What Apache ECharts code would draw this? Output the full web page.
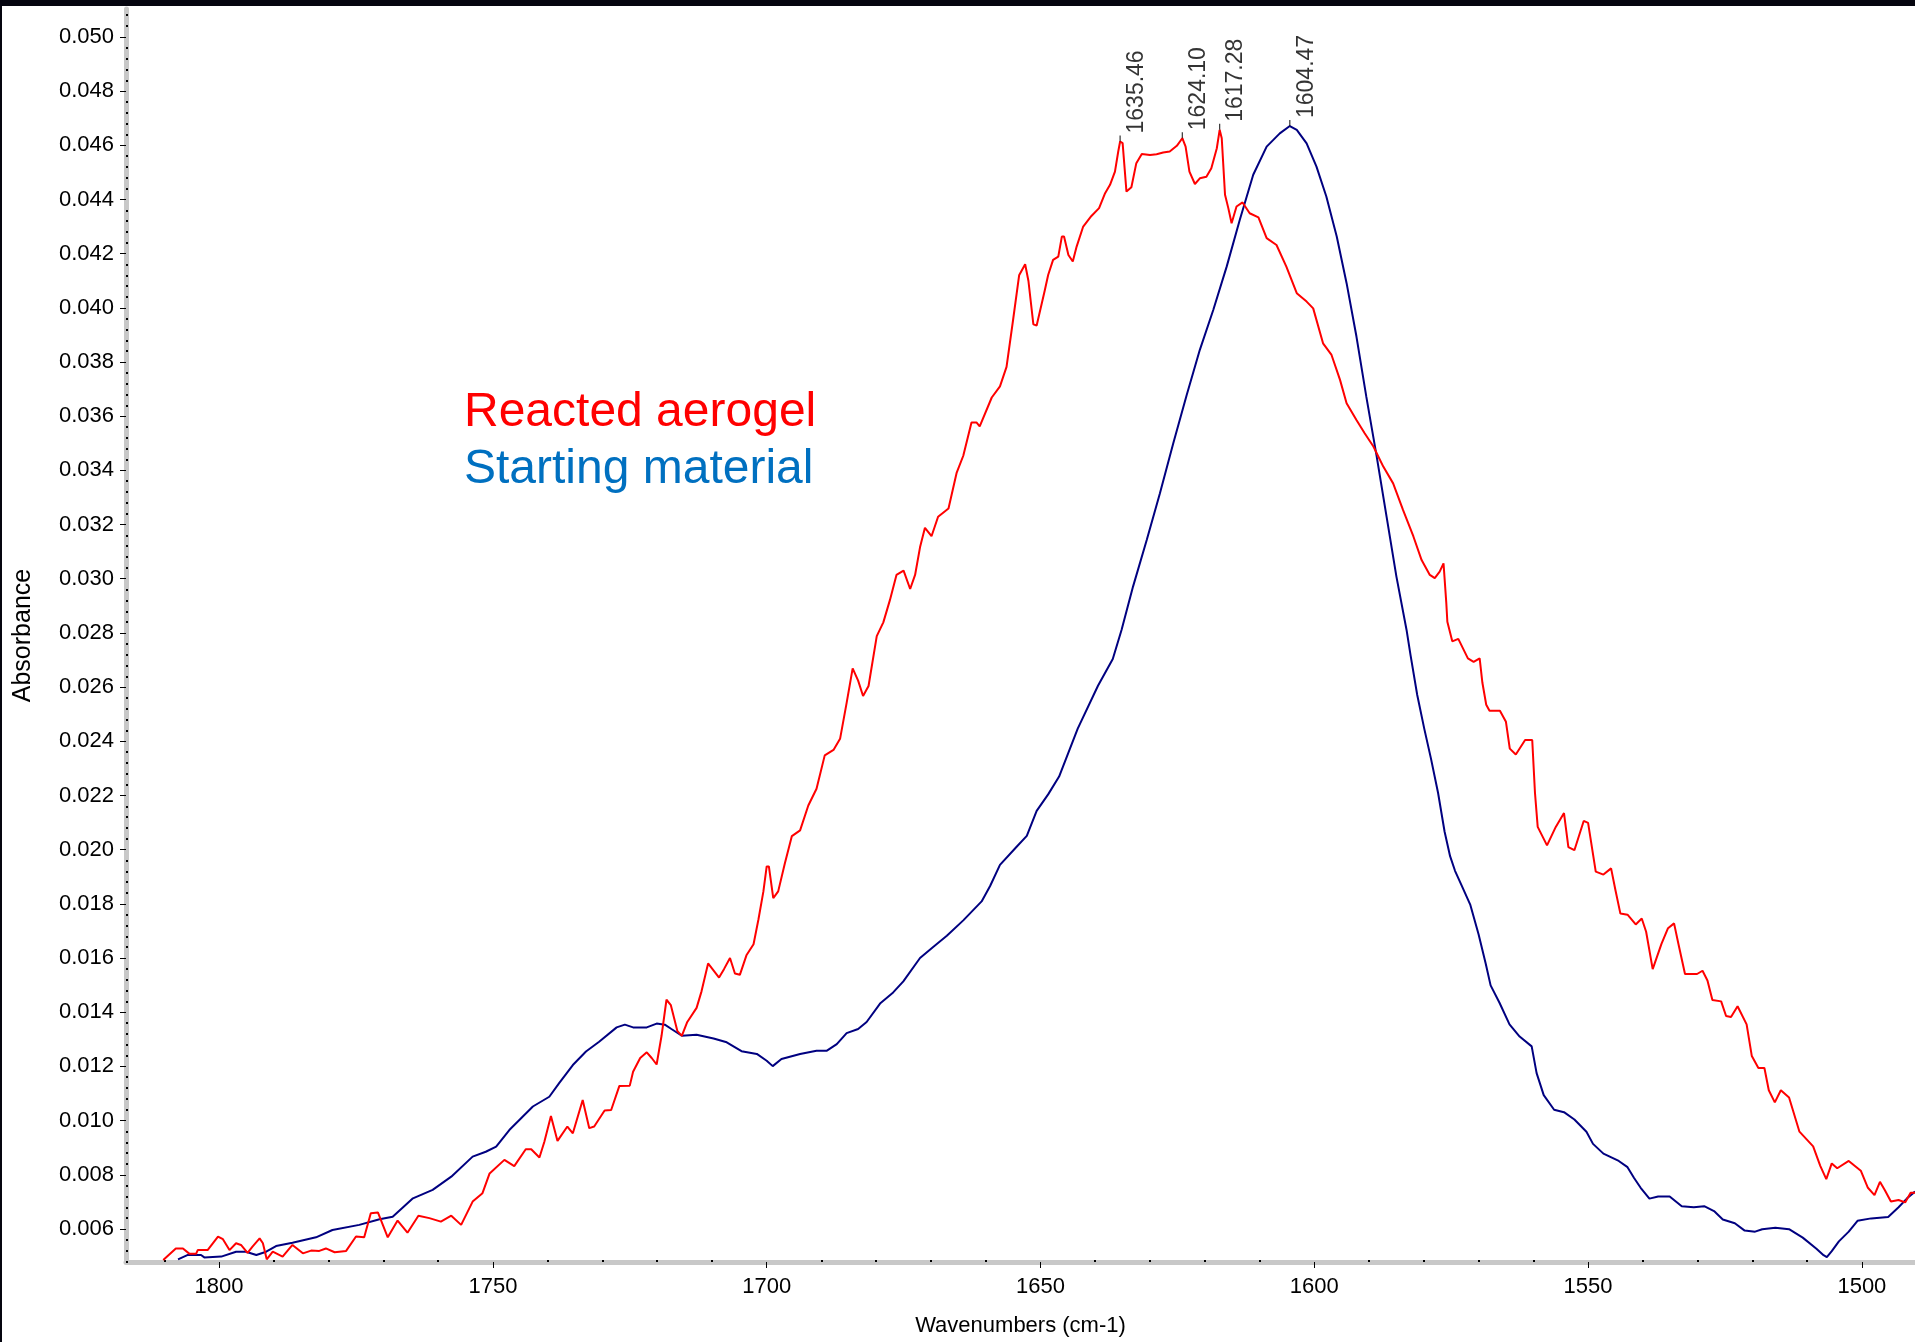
<!DOCTYPE html>
<html>
<head>
<meta charset="utf-8">
<script src="https://cdn.jsdelivr.net/npm/echarts@6.0.0/dist/echarts.min.js"></script>
<style>
html,body{margin:0;padding:0;background:#fff;}
#chart{width:1915px;height:1342px;}
</style>
</head>
<body>
<div id="chart"></div>
<script>
// ---- axis ticks ----
const xTicks = [1500, 1550, 1600, 1650, 1700, 1750, 1800];
const yTicks = [0.006, 0.008, 0.010, 0.012, 0.014, 0.016, 0.018, 0.020, 0.022, 0.024, 0.026, 0.028,
                0.030, 0.032, 0.034, 0.036, 0.038, 0.040, 0.042, 0.044, 0.046, 0.048, 0.050];
const xRange = [1490.3, 1817.0];
const yRange = [0.00478, 0.05103];

// ---- series names ----
const seriesNames = ['Reacted aerogel', 'Starting material'];

// ---- Reacted aerogel: [wavenumber, absorbance] ----
const reactedAerogel = [
[1810.2,0.00485],[1807.9,0.00528],[1806.6,0.00528],[1805.4,0.00508],[1804.2,0.00508],[1803.9,0.00522],[1802.1,0.00522],[1800.2,0.00572],[1799.3,0.00562],[1798.1,0.00522],
[1796.9,0.00547],[1796.0,0.00541],[1794.8,0.00512],[1793.9,0.00535],[1792.6,0.00565],[1792.0,0.00547],[1791.3,0.00488],[1790.2,0.00516],[1788.4,0.00498],[1786.6,0.00541],
[1784.7,0.00510],[1783.2,0.00520],[1781.7,0.00519],[1780.5,0.00528],[1778.9,0.00514],[1776.8,0.00519],[1775.0,0.00572],[1773.5,0.00569],[1772.3,0.00658],[1771.0,0.00661],
[1769.2,0.00569],[1767.4,0.00631],[1765.6,0.00586],[1763.6,0.00649],[1761.6,0.00640],[1759.5,0.00627],[1757.6,0.00649],[1755.8,0.00615],[1753.7,0.00701],[1751.9,0.00732],
[1750.6,0.00805],[1747.9,0.00855],[1746.1,0.00832],[1744.0,0.00894],[1743.0,0.00894],[1741.5,0.00864],[1740.6,0.00922],[1739.4,0.01017],[1738.2,0.00925],[1736.4,0.00978],
[1735.4,0.00953],[1733.6,0.01076],[1732.4,0.00972],[1731.5,0.00978],[1729.6,0.01037],[1728.4,0.01039],[1726.9,0.01128],[1725.0,0.01129],[1724.4,0.01180],[1723.1,0.01231],
[1721.9,0.01252],[1721.0,0.01231],[1720.1,0.01207],[1719.2,0.01313],[1718.3,0.01446],[1717.5,0.01426],[1716.3,0.01330],[1715.5,0.01313],[1714.5,0.01364],[1712.8,0.01416],
[1711.9,0.01477],[1710.7,0.01580],[1708.7,0.01528],[1707.8,0.01559],[1706.7,0.01600],[1705.8,0.01543],[1704.9,0.01538],[1703.7,0.01610],[1702.4,0.01651],[1701.5,0.01743],
[1700.6,0.01846],[1700.0,0.01938],[1699.6,0.01938],[1698.8,0.01821],[1697.9,0.01846],[1696.7,0.01948],[1695.4,0.02050],[1693.9,0.02071],[1692.4,0.02163],[1690.9,0.02225],
[1689.4,0.02348],[1687.8,0.02368],[1686.6,0.02409],[1685.4,0.02542],[1684.3,0.02669],[1683.3,0.02624],[1682.4,0.02567],[1681.4,0.02604],[1679.9,0.02788],[1678.7,0.02839],
[1677.5,0.02921],[1676.3,0.03014],[1675.0,0.03030],[1673.8,0.02962],[1672.9,0.03014],[1672.0,0.03116],[1671.1,0.03188],[1669.9,0.03157],[1668.7,0.03229],[1666.8,0.03259],
[1665.3,0.03392],[1664.1,0.03454],[1662.6,0.03577],[1661.7,0.03577],[1661.1,0.03562],[1658.9,0.03669],[1657.4,0.03710],[1656.2,0.03782],[1655.0,0.03956],[1653.9,0.04120],
[1652.8,0.04161],[1652.2,0.04099],[1651.3,0.03939],[1650.7,0.03935],[1649.2,0.04066],[1648.6,0.04121],[1647.7,0.04177],[1646.75,0.04189],[1646.1,0.04263],[1645.7,0.04263],
[1644.9,0.04195],[1644.1,0.04171],[1643.4,0.04226],[1642.2,0.04300],[1640.7,0.04339],[1639.3,0.04368],[1638.2,0.04423],[1637.3,0.04454],[1636.4,0.04503],[1635.8,0.04577],
[1635.46,0.04614],[1635.0,0.04608],[1634.3,0.04429],[1633.4,0.04445],[1632.5,0.04534],[1631.5,0.04568],[1630.0,0.04564],[1628.8,0.04567],[1627.6,0.04573],[1626.4,0.04577],
[1625.1,0.04598],[1624.1,0.04626],[1623.5,0.04595],[1622.8,0.04503],[1621.8,0.04457],[1620.9,0.04478],[1619.7,0.04484],[1618.8,0.04515],[1617.8,0.04589],[1617.28,0.04657],
[1616.9,0.04626],[1616.3,0.04417],[1615.7,0.04368],[1615.1,0.04312],[1614.2,0.04374],[1613.1,0.04389],[1611.8,0.04349],[1610.2,0.04334],[1608.7,0.04257],[1606.9,0.04232],
[1605.1,0.04152],[1603.2,0.04054],[1601.4,0.04023],[1600.2,0.03998],[1598.4,0.03869],[1596.85,0.03826],[1595.3,0.03734],[1594.1,0.03648],[1592.3,0.03586],[1590.8,0.03537],
[1589.2,0.03488],[1587.4,0.03414],[1585.6,0.03352],[1583.8,0.03254],[1581.9,0.03156],[1580.4,0.03069],[1578.9,0.03014],[1578.0,0.03002],[1577.1,0.03026],[1576.4,0.03057],
[1575.9,0.02913],[1575.7,0.02841],[1574.8,0.02769],[1573.7,0.02778],[1571.95,0.02706],[1570.9,0.02693],[1569.8,0.02706],[1569.3,0.02616],[1568.6,0.02535],[1568.0,0.02513],
[1566.1,0.02513],[1565.0,0.02472],[1564.3,0.02373],[1563.2,0.02351],[1561.5,0.02405],[1560.2,0.02405],[1559.7,0.02210],[1559.2,0.02084],[1557.5,0.02016],[1555.9,0.02084],
[1554.4,0.02135],[1553.6,0.02009],[1552.5,0.01998],[1550.8,0.02106],[1550.0,0.02099],[1548.6,0.01919],[1547.2,0.01908],[1545.8,0.01931],[1545.0,0.01850],[1544.1,0.01764],
[1542.8,0.01760],[1541.3,0.01724],[1540.2,0.01746],[1539.4,0.01697],[1538.2,0.01559],[1536.6,0.01652],[1535.4,0.01710],[1534.3,0.01728],[1533.5,0.01652],[1532.3,0.01541],
[1530.1,0.01541],[1529.1,0.01553],[1528.2,0.01517],[1527.3,0.01445],[1525.7,0.01440],[1524.8,0.01386],[1523.9,0.01382],[1522.7,0.01422],[1521.05,0.01355],[1520.1,0.01238],
[1518.9,0.01194],[1517.8,0.01194],[1517.0,0.01112],[1515.9,0.01067],[1514.8,0.01112],[1513.3,0.01085],[1511.4,0.00959],[1508.9,0.00905],[1507.6,0.00833],[1506.5,0.00784],
[1505.5,0.00842],[1504.5,0.00824],[1502.4,0.00851],[1500.2,0.00815],[1498.9,0.00752],[1497.7,0.00725],[1496.7,0.00774],[1495.8,0.00743],[1494.7,0.00701],[1493.3,0.00707],
[1492.1,0.00698],[1491.1,0.00734],[1490.3,0.00734]
];

// ---- Starting material: [wavenumber, absorbance] ----
const startingMaterial = [
[1807.5,0.00488],[1805.7,0.00504],[1803.3,0.00504],[1802.7,0.00495],[1799.6,0.00498],[1796.9,0.00516],[1795.1,0.00516],[1793.2,0.00504],[1791.4,0.00516],[1789.6,0.00537],
[1786.6,0.00549],[1782.3,0.00569],[1779.3,0.00596],[1774.4,0.00615],[1770.7,0.00636],[1768.3,0.00645],[1764.6,0.00713],[1761.0,0.00744],[1757.6,0.00793],[1753.7,0.00867],
[1751.3,0.00885],[1749.4,0.00904],[1747.0,0.00965],[1742.7,0.01052],[1739.7,0.01088],[1737.9,0.01138],[1735.4,0.01205],[1733.0,0.01255],[1730.6,0.01291],[1727.4,0.01344],
[1725.9,0.01354],[1724.4,0.01344],[1721.9,0.01344],[1720.1,0.01358],[1718.6,0.01354],[1717.4,0.01338],[1715.5,0.01313],[1712.8,0.01317],[1709.7,0.01303],[1707.3,0.01289],
[1704.6,0.01256],[1701.8,0.01246],[1700.0,0.01221],[1698.9,0.01201],[1697.3,0.01227],[1693.9,0.01246],[1690.9,0.01258],[1689.0,0.01258],[1687.2,0.01282],[1685.4,0.01323],
[1683.3,0.01338],[1681.75,0.01364],[1679.3,0.01432],[1676.9,0.01473],[1675.05,0.01514],[1672.0,0.01600],[1669.6,0.01641],[1667.1,0.01682],[1664.1,0.01739],[1660.75,0.01809],
[1659.2,0.01866],[1657.4,0.01944],[1654.4,0.02010],[1652.5,0.02051],[1650.7,0.02143],[1648.6,0.02204],[1646.6,0.02270],[1643.2,0.02447],[1639.5,0.02605],[1636.8,0.02704],
[1635.2,0.02811],[1633.1,0.02971],[1630.6,0.03143],[1628.2,0.03315],[1625.75,0.03500],[1623.3,0.03678],[1620.9,0.03845],[1618.45,0.03992],[1616.0,0.04152],[1613.6,0.04325],
[1611.15,0.04491],[1608.7,0.04595],[1606.3,0.04644],[1604.47,0.04671],[1603.2,0.04657],[1601.4,0.04607],[1599.6,0.04521],[1597.8,0.04411],[1595.9,0.04263],[1594.1,0.04091],
[1592.3,0.03894],[1590.5,0.03672],[1588.6,0.03451],[1586.8,0.03229],[1585.0,0.03008],[1583.15,0.02811],[1582.4,0.02715],[1581.2,0.02571],[1579.9,0.02445],[1578.7,0.02337],
[1577.4,0.02210],[1576.2,0.02066],[1575.2,0.01976],[1574.3,0.01922],[1573.1,0.01868],[1571.5,0.01796],[1570.0,0.01688],[1568.7,0.01580],[1567.8,0.01499],[1566.2,0.01436],
[1564.35,0.01355],[1562.5,0.01310],[1560.3,0.01274],[1559.4,0.01175],[1558.1,0.01094],[1556.2,0.01040],[1554.4,0.01031],[1552.5,0.01004],[1550.3,0.00959],[1549.1,0.00914],
[1547.2,0.00878],[1544.4,0.00851],[1542.8,0.00828],[1541.6,0.00788],[1540.4,0.00752],[1538.8,0.00712],[1537.2,0.00720],[1535.1,0.00720],[1532.9,0.00684],[1530.7,0.00680],
[1528.8,0.00684],[1527.0,0.00666],[1525.4,0.00635],[1523.2,0.00621],[1521.4,0.00594],[1519.5,0.00590],[1518.2,0.00599],[1515.8,0.00604],[1513.3,0.00599],[1510.8,0.00568],
[1508.3,0.00527],[1507.0,0.00503],[1506.4,0.00496],[1505.5,0.00518],[1504.2,0.00554],[1502.4,0.00590],[1500.8,0.00630],[1498.3,0.00639],[1495.2,0.00644],[1493.3,0.00680],
[1491.8,0.00712],[1490.3,0.00738]
];

// ---- labelled peaks ----
const peakWavenumbers = [1635.46, 1624.10, 1617.28, 1604.47];
const peakAbsorbances = [0.04614, 0.04626, 0.04657, 0.04671];

// minor tick positions (every 10 cm-1, every 0.0004 absorbance)
const xMinor = [];
for (let v = 1500; v <= 1810; v += 10) if (v % 50 !== 0) xMinor.push(v);
const yMinor = [];
for (let i = 12; i <= 127; i++) if (i % 5 !== 0) yMinor.push(+(i * 0.0004).toFixed(4));

const FONT = '"Liberation Sans", Arial, Helvetica, sans-serif';

const chart = echarts.init(document.getElementById('chart'), null, {renderer: 'canvas'});

const mainX = {
  type: 'value', min: xRange[0], max: xRange[1], inverse: true, position: 'bottom',
  axisLine: {onZero: false, lineStyle: {color: '#c8c8c8', width: 5}},
  axisTick: {customValues: xTicks, length: 6, lineStyle: {color: '#000', width: 1}},
  axisLabel: {customValues: xTicks, fontSize: 22, color: '#000', margin: 14, fontFamily: FONT,
              formatter: v => String(Math.round(v))},
  splitLine: {show: false},
  name: 'Wavenumbers (cm-1)', nameLocation: 'middle', nameGap: 53,
  nameTextStyle: {fontSize: 22, color: '#000', fontFamily: FONT}
};
const minorX = {
  type: 'value', min: xRange[0], max: xRange[1], inverse: true, position: 'bottom',
  axisLine: {show: false, onZero: false},
  axisTick: {customValues: xMinor, inside: true, length: 2, lineStyle: {color: '#000', width: 2}},
  axisLabel: {show: false}, splitLine: {show: false}
};
const mainY = {
  type: 'value', min: yRange[0], max: yRange[1], position: 'left',
  axisLine: {onZero: false, lineStyle: {color: '#c8c8c8', width: 5}},
  axisTick: {customValues: yTicks, length: 6, lineStyle: {color: '#000', width: 1}},
  axisLabel: {customValues: yTicks, fontSize: 22, color: '#000', margin: 12, fontFamily: FONT,
              formatter: v => v.toFixed(3)},
  splitLine: {show: false},
  name: 'Absorbance', nameLocation: 'middle', nameGap: 90,
  nameTextStyle: {fontSize: 25, color: '#000', fontFamily: FONT}
};
const minorY = {
  type: 'value', min: yRange[0], max: yRange[1], position: 'left',
  axisLine: {show: false, onZero: false},
  axisTick: {customValues: yMinor, inside: true, length: 2, lineStyle: {color: '#000', width: 2}},
  axisLabel: {show: false}, splitLine: {show: false}
};

const option = {
  animation: false,
  backgroundColor: '#ffffff',
  textStyle: {fontFamily: FONT},
  grid: {left: 126, right: 0, top: 9, bottom: 80},
  legend: {
    orient: 'vertical', left: 459, top: 387, padding: 0,
    icon: 'none', itemWidth: 0, itemHeight: 0, itemGap: 6, selectedMode: false,
    textStyle: {fontSize: 48, lineHeight: 51, fontFamily: FONT},
    data: [
      {name: seriesNames[0], textStyle: {color: '#ff0000'}},
      {name: seriesNames[1], textStyle: {color: '#0070c0'}}
    ]
  },
  xAxis: [mainX, minorX],
  yAxis: [mainY, minorY],
  graphic: [
    {type: 'rect', left: 0, top: 0, shape: {width: 1915, height: 6}, style: {fill: '#05050f'}, z: 100},
    {type: 'rect', left: 0, top: 0, shape: {width: 2, height: 1342}, style: {fill: '#05050f'}, z: 100}
  ],
  series: [
    {
      name: seriesNames[0], type: 'line', xAxisIndex: 0, yAxisIndex: 0,
      data: reactedAerogel, showSymbol: false, symbol: 'none', clip: true,
      lineStyle: {color: '#ff0000', width: 2}, itemStyle: {color: '#ff0000'}, z: 3
    },
    {
      name: seriesNames[1], type: 'line', xAxisIndex: 0, yAxisIndex: 0,
      data: startingMaterial, showSymbol: false, symbol: 'none', clip: true,
      lineStyle: {color: '#000080', width: 2}, itemStyle: {color: '#000080'}, z: 2
    },
    {
      name: 'peaks', type: 'scatter', xAxisIndex: 0, yAxisIndex: 0,
      data: peakWavenumbers.map((w, i) => [w, peakAbsorbances[i]]),
      symbol: 'rect', symbolSize: [1.2, 6], symbolOffset: [0, '-50%'],
      itemStyle: {color: '#000'}, z: 4, silent: true,
      label: {
        show: true, rotate: 90, position: [17, -2], align: 'left', verticalAlign: 'middle',
        fontSize: 23, color: '#000', fontFamily: FONT,
        formatter: p => p.value[0].toFixed(2)
      }
    }
  ]
};
chart.setOption(option);
</script>
</body>
</html>
